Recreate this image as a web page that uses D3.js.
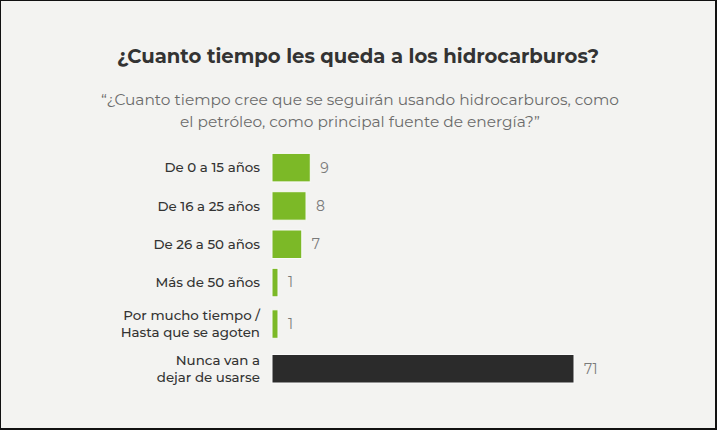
<!DOCTYPE html>
<html>
<head>
<meta charset="utf-8">
<script src="https://cdn.jsdelivr.net/npm/d3@7"></script>
<style>
  html, body { margin: 0; padding: 0; background: #f3f3f1; }
  svg { display: block; }
</style>
</head>
<body>
<div id="chart"></div>
<script>
// data
var categories = [
  ["De 0 a 15 años"],
  ["De 16 a 25 años"],
  ["De 26 a 50 años"],
  ["Más de 50 años"],
  ["Por mucho tiempo /", "Hasta que se agoten"],
  ["Nunca van a", "dejar de usarse"]
];
var values = [9, 8, 7, 1, 1, 71];
var highlight = [false, false, false, false, false, true];
var title = "¿Cuanto tiempo les queda a los hidrocarburos?";
var subtitle = [
  "“¿Cuanto tiempo cree que se seguirán usando hidrocarburos, como",
  "el petróleo, como principal fuente de energía?”"
];

var W = 717, H = 430;
var font = "Montserrat, 'Noto Sans', sans-serif";

var svg = d3.select("#chart").append("svg")
    .attr("width", W)
    .attr("height", H);

svg.append("rect")
    .attr("x", 0.5).attr("y", 0.5)
    .attr("width", W - 2).attr("height", H - 2)
    .attr("fill", "#f3f3f1")
    .attr("stroke", "#111")
    .attr("stroke-width", 1);
svg.append("line").attr("x1", W - 1).attr("x2", W - 1).attr("y1", 0).attr("y2", H)
    .attr("stroke", "#111").attr("stroke-width", 2);
svg.append("line").attr("x1", 0).attr("x2", W).attr("y1", H - 1).attr("y2", H - 1)
    .attr("stroke", "#111").attr("stroke-width", 2);

svg.append("text")
    .attr("x", 358).attr("y", 63)
    .attr("text-anchor", "middle")
    .style("font-family", font)
    .style("font-weight", 700)
    .style("font-size", "19.6px")
    .attr("fill", "#333")
    .text(title);

svg.append("g").selectAll("text")
    .data(subtitle).enter()
    .append("text")
    .attr("x", 360)
    .attr("y", function(d, i) { return 105 + i * 22; })
    .attr("text-anchor", "middle")
    .style("font-family", font)
    .style("font-size", "15.4px")
    .attr("fill", "#6b6b6b")
    .text(function(d) { return d; });

// rows: two-line labels get a taller row
var rowH = categories.map(function(c) { return c.length > 1 ? 44.7 : 38.3; });
var offsets = [0].concat(Array.from(d3.cumsum(rowH)));
var keys = categories.map(function(c) { return c.join(" "); });
var top0 = 148.5;
var y = d3.scaleOrdinal()
    .domain(keys)
    .range(keys.map(function(k, i) { return top0 + offsets[i] + rowH[i] / 2; }));

var x = d3.scaleLinear().domain([0, 71]).range([272, 574]);
var barH = 28.5;

var rows = svg.append("g").selectAll("g")
    .data(categories.map(function(c, i) {
      return { label: c, key: keys[i], value: values[i], dark: highlight[i] };
    }))
    .enter().append("g")
    .attr("transform", function(d) { return "translate(0," + y(d.key) + ")"; });

rows.append("rect")
    .attr("x", x(0))
    .attr("y", -barH / 2)
    .attr("width", function(d) { return Math.max(x(d.value) - x(0), 6); })
    .attr("height", barH)
    .attr("fill", function(d) { return d.dark ? "#2b2b2b" : "#7cb927"; })
    .attr("stroke", "#fafafa")
    .attr("stroke-width", 1);

rows.append("text")
    .attr("x", function(d) { return Math.max(x(d.value), x(0) + 6) + 10; })
    .attr("dy", "0.35em")
    .style("font-family", font)
    .style("font-size", "14px")
    .style("font-weight", 400)
    .attr("fill", "#7a7a7a")
    .text(function(d) { return d.value; });

rows.append("text")
    .attr("text-anchor", "end")
    .style("font-family", font)
    .style("font-size", "13.4px")
    .style("font-weight", 500)
    .attr("fill", "#333")
    .selectAll("tspan")
    .data(function(d) { return d.label.map(function(l, i) { return { t: l, i: i, n: d.label.length }; }); })
    .enter().append("tspan")
    .attr("x", 260)
    .attr("y", function(d) { return (d.i - (d.n - 1) / 2) * 17; })
    .attr("dy", "0.35em")
    .text(function(d) { return d.t; });
</script>
</body>
</html>
